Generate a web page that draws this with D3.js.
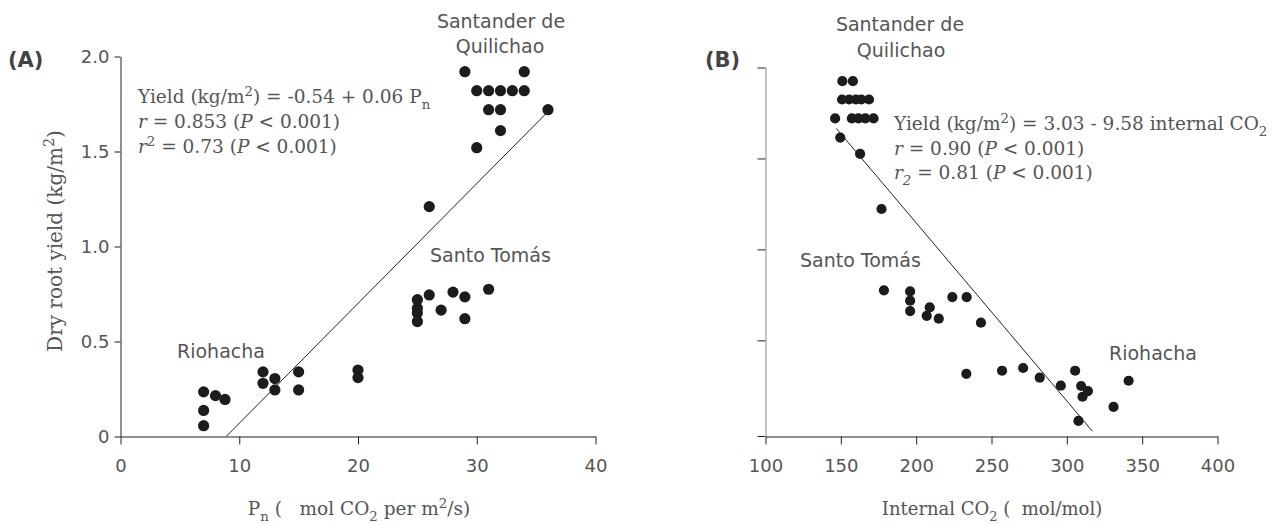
<!DOCTYPE html>
<html>
<head>
<meta charset="utf-8">
<script src="https://cdn.jsdelivr.net/npm/d3@7"></script>
<style>
  html, body { margin: 0; padding: 0; background: #fff; }
  svg { display: block; }
</style>
</head>
<body>
<svg id="chart" width="1280" height="526"></svg>
<script>
// ---- Panel A: net photosynthesis (Pn) against dry root yield ----
const pnA = [
  29, 34, 30, 31, 32, 33, 34, 31, 32, 36, 32, 30,      // Santander de Quilichao
  26,
  25, 26, 28, 29, 31, 25, 25, 27, 25, 29,              // Santo Tomás
  20, 20, 12, 12, 13, 13, 15, 15,
  7, 8, 8.8, 7, 7                                      // Riohacha
];
const yieldA = [
  1.92, 1.92, 1.82, 1.82, 1.82, 1.82, 1.82, 1.72, 1.72, 1.72, 1.61, 1.52,
  1.21,
  0.72, 0.745, 0.76, 0.735, 0.775, 0.675, 0.65, 0.665, 0.605, 0.62,
  0.35, 0.31, 0.34, 0.28, 0.305, 0.245, 0.34, 0.245,
  0.235, 0.215, 0.195, 0.137, 0.057
];
// fitted line, drawn between its two end points
const fitA = [[8.9, 0], [36, 1.71]];

// ---- Panel B: internal CO2 against dry root yield ----
const co2B = [
  151, 158, 150.8, 155.5, 160, 163.6, 168.7, 146.2, 157.3, 161.7, 166.3, 171.7,  // Santander de Quilichao
  149.6, 162.8, 177,
  178.6, 196, 196, 196, 209, 207, 215, 224, 233.5, 243,                         // Santo Tomás
  233.3, 257, 271, 282, 296, 305.5, 309.5, 314, 310.4, 331, 341, 307.7           // Riohacha
];
const yieldB = [
  1.925, 1.925, 1.824, 1.824, 1.824, 1.824, 1.824, 1.72, 1.72, 1.72, 1.72, 1.72,
  1.615, 1.525, 1.222,
  0.775, 0.769, 0.718, 0.661, 0.681, 0.635, 0.619, 0.738, 0.738, 0.597,
  0.316, 0.333, 0.348, 0.295, 0.251, 0.333, 0.249, 0.221, 0.19, 0.134, 0.278, 0.057
];
const fitB = [[147, 1.665], [317, 0]];

// ---- axis ticks ----
const ticksAx = [0, 10, 20, 30, 40];
const ticksAy = [0, 0.5, 1.0, 1.5, 2.0];
const ticksBx = [100, 150, 200, 250, 300, 350, 400];
const ticksBy = [0.5, 1.0, 1.5, 2.0];

const SANS = "'DejaVu Sans', sans-serif";
const SERIF = "'DejaVu Serif', serif";
const TEXT = "#555";
const INK = "#1c1c1c";
const EQ = 18.5;     // equation font size
const SITE = 19;     // site label font size

const svg = d3.select("#chart");

// rich text: parts = [{t, i (italic), sub, sup}]
function rich(parent, x, y, parts, size, family, anchor) {
  const t = parent.append("text")
    .attr("x", x).attr("y", y)
    .attr("font-family", family)
    .attr("font-size", size)
    .attr("fill", TEXT)
    .attr("text-anchor", anchor || "start")
    .style("white-space", "pre");
  let cur = 0;
  parts.forEach(p => {
    const target = p.sub ? size * 0.32 : (p.sup ? -size * 0.38 : 0);
    const s = t.append("tspan").attr("dy", target - cur).text(p.t);
    cur = target;
    if (p.sub || p.sup) s.attr("font-size", size * 0.72);
    if (p.i) s.attr("font-style", "italic");
  });
  return t;
}
function plain(parent, x, y, str, size, family, anchor) {
  return parent.append("text")
    .attr("x", x).attr("y", y)
    .attr("font-family", family)
    .attr("font-size", size)
    .attr("fill", TEXT)
    .attr("text-anchor", anchor || "start")
    .text(str);
}

const fmtY = d => d === 0 ? "0" : d3.format(".1f")(d);

function styleAxis(g, domainColor) {
  g.select(".domain").attr("stroke", domainColor || "#222").attr("stroke-width", 1);
  g.selectAll(".tick line").attr("stroke", "#222");
  g.selectAll(".tick text")
    .attr("font-family", SANS).attr("font-size", 18).attr("fill", TEXT);
}

// ================= Panel A =================
const xA = d3.scaleLinear().domain([0, 40]).range([120.5, 595.5]);
const yA = d3.scaleLinear().domain([0, 2]).range([436.5, 56.5]);
const gA = svg.append("g");

gA.append("g").attr("transform", `translate(0,${yA(0)})`)
  .call(d3.axisBottom(xA).tickValues(ticksAx).tickSize(8).tickSizeOuter(0).tickPadding(15)
        .tickFormat(d3.format("d")))
  .call(g => styleAxis(g));
gA.append("g").attr("transform", `translate(${xA(0)},0)`)
  .call(d3.axisLeft(yA).tickValues(ticksAy).tickSize(6).tickSizeOuter(0).tickPadding(5)
        .tickFormat(fmtY))
  .call(g => styleAxis(g));

gA.append("line")
  .attr("x1", xA(fitA[0][0])).attr("y1", yA(fitA[0][1]))
  .attr("x2", xA(fitA[1][0])).attr("y2", yA(fitA[1][1]))
  .attr("stroke", "#222").attr("stroke-width", 1);

gA.selectAll("circle").data(pnA.map((v, i) => [v, yieldA[i]])).join("circle")
  .attr("cx", d => xA(d[0])).attr("cy", d => yA(d[1])).attr("r", 5.6).attr("fill", INK);

gA.append("text").attr("x", 8).attr("y", 67)
  .attr("font-family", SANS).attr("font-size", 21).attr("font-weight", "bold")
  .attr("fill", "#444").text("(A)");

plain(gA, 501, 28, "Santander de", SITE, SANS, "middle");
plain(gA, 500, 53, "Quilichao", SITE, SANS, "middle");
plain(gA, 430, 262, "Santo Tomás", SITE, SANS);
plain(gA, 177, 358, "Riohacha", SITE, SANS);

rich(gA, 138, 103, [{ t: "Yield (kg/m" }, { t: "2", sup: true }, { t: ") = -0.54 + 0.06 P" }, { t: "n", sub: true }], EQ, SERIF);
rich(gA, 138, 128, [{ t: "r", i: true }, { t: " = 0.853 (" }, { t: "P", i: true }, { t: " < 0.001)" }], EQ, SERIF);
rich(gA, 138, 153, [{ t: "r", i: true }, { t: "2", sup: true }, { t: " = 0.73 (" }, { t: "P", i: true }, { t: " < 0.001)" }], EQ, SERIF);

rich(gA.append("g").attr("transform", "translate(62,241) rotate(-90)"), 0, 0,
  [{ t: "Dry root yield (kg/m" }, { t: "2", sup: true }, { t: ")" }], 20, SERIF, "middle");
rich(gA, 359, 515,
  [{ t: "P" }, { t: "n", sub: true }, { t: " (   mol CO" }, { t: "2", sub: true }, { t: " per m" }, { t: "2", sup: true }, { t: "/s)" }],
  18.5, SERIF, "middle");

// ================= Panel B =================
const xB = d3.scaleLinear().domain([100, 400]).range([765.5, 1217.5]);
const yB = d3.scaleLinear().domain([0, 2]).range([431.3, 67.5]);
const axisBaseB = 436.5;
// y axis runs a little below zero so it meets the x axis
const yBaxis = yB.copy().domain([yB.invert(axisBaseB), 2]).range([axisBaseB, yB(2)]);
const gB = svg.append("g");

gB.append("g").attr("transform", `translate(0,${axisBaseB})`)
  .call(d3.axisBottom(xB).tickValues(ticksBx).tickSize(8).tickSizeOuter(0).tickPadding(15)
        .tickFormat(d3.format("d")))
  .call(g => styleAxis(g));
gB.append("line")
  .attr("x1", xB(100) - 8).attr("x2", xB(100))
  .attr("y1", axisBaseB).attr("y2", axisBaseB)
  .attr("stroke", "#222");
gB.append("g").attr("transform", `translate(${xB(100)},0)`)
  .call(d3.axisLeft(yBaxis).tickValues(ticksBy).tickSize(8).tickSizeOuter(0).tickFormat(""))
  .call(g => styleAxis(g, "#888"));

gB.append("line")
  .attr("x1", xB(fitB[0][0])).attr("y1", yB(fitB[0][1]))
  .attr("x2", xB(fitB[1][0])).attr("y2", yB(fitB[1][1]))
  .attr("stroke", "#222").attr("stroke-width", 1);

gB.selectAll("circle").data(co2B.map((v, i) => [v, yieldB[i]])).join("circle")
  .attr("cx", d => xB(d[0])).attr("cy", d => yB(d[1])).attr("r", 5.1).attr("fill", INK);

gB.append("text").attr("x", 705).attr("y", 67)
  .attr("font-family", SANS).attr("font-size", 21).attr("font-weight", "bold")
  .attr("fill", "#444").text("(B)");

plain(gB, 900, 31, "Santander de", SITE, SANS, "middle");
plain(gB, 901, 57, "Quilichao", SITE, SANS, "middle");
plain(gB, 800, 267, "Santo Tomás", SITE, SANS);
plain(gB, 1109, 360, "Riohacha", SITE, SANS);

rich(gB, 894, 130, [{ t: "Yield (kg/m" }, { t: "2", sup: true }, { t: ") = 3.03 - 9.58 internal CO" }, { t: "2", sub: true }], EQ, SERIF);
rich(gB, 894, 155, [{ t: "r", i: true }, { t: " = 0.90 (" }, { t: "P", i: true }, { t: " < 0.001)" }], EQ, SERIF);
rich(gB, 894, 179, [{ t: "r", i: true }, { t: "2", sub: true, i: true }, { t: " = 0.81 (" }, { t: "P", i: true }, { t: " < 0.001)" }], EQ, SERIF);

rich(gB, 992, 515,
  [{ t: "Internal CO" }, { t: "2", sub: true }, { t: " (  mol/mol)" }],
  18, SERIF, "middle");
</script>
</body>
</html>
